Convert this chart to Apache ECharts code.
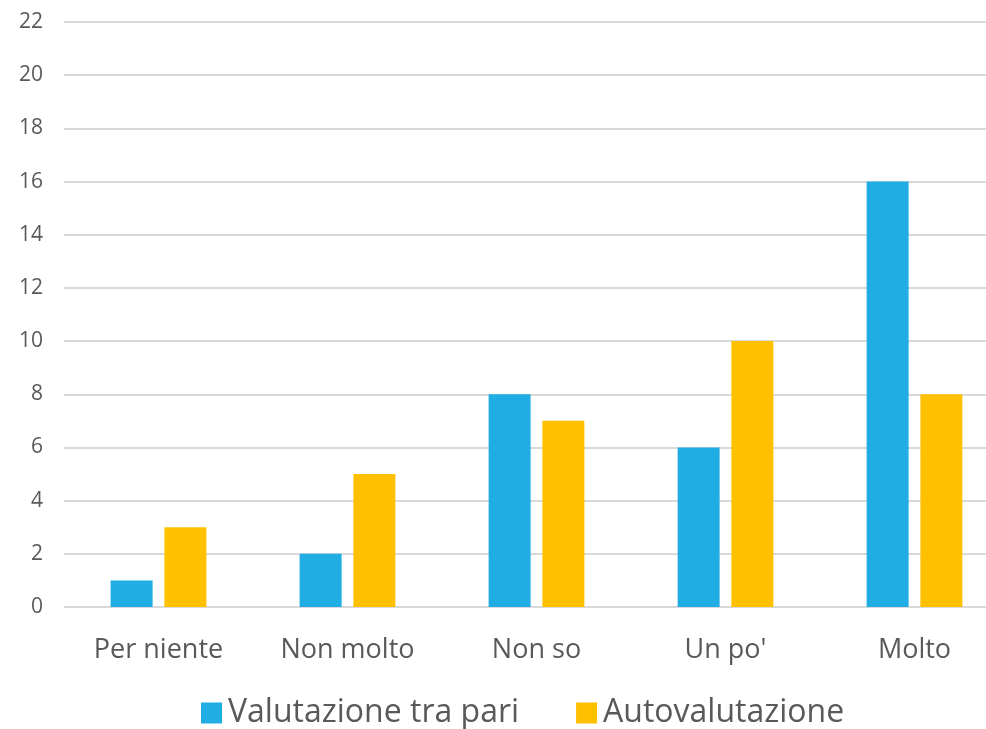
<!DOCTYPE html>
<html>
<head>
<meta charset="utf-8">
<script src="https://cdn.jsdelivr.net/npm/echarts@6/dist/echarts.min.js"></script>
<style>
  html, body { margin: 0; padding: 0; background: #fff; }
  #chart { width: 986px; height: 729px; }
</style>
</head>
<body>
<div id="chart"></div>
<script>
// categorie e valori
const categories = ['Per niente', 'Non molto', 'Non so', "Un po'", 'Molto']
const seriesNames = ['Valutazione tra pari', 'Autovalutazione']
const peerValues = [1, 2, 8, 6, 16]
const selfValues = [3, 5, 7, 10, 8]

const font = "'Open Sans', 'Noto Sans', sans-serif"

const chart = echarts.init(document.getElementById('chart'))
chart.setOption({
  animation: false,
  color: ['#1FADE4', '#FFC000'],
  // the plot runs past the right edge of the picture, like in the original
  grid: { left: 64, width: 945, top: 22, height: 585, outerBoundsMode: 'none', containLabel: false },
  legend: {
    data: seriesNames,
    top: 692,
    left: 196,
    itemWidth: 21,
    itemHeight: 21,
    itemGap: 57,
    icon: 'rect',
    textStyle: { fontFamily: font, fontSize: 32, color: '#595959', padding: [0, 0, 0, 1] }
  },
  xAxis: {
    type: 'category',
    data: categories,
    axisLine: { show: false },
    axisTick: { show: false },
    axisLabel: { fontFamily: font, fontSize: 27, color: '#595959', margin: 30 }
  },
  yAxis: {
    type: 'value',
    min: 0,
    max: 22,
    interval: 2,
    axisLine: { show: false },
    axisTick: { show: false },
    axisLabel: { fontFamily: font, fontSize: 21, color: '#595959', margin: 21 },
    splitLine: { lineStyle: { color: '#D9D9D9', width: 2 } }
  },
  series: [
    { name: seriesNames[0], type: 'bar', data: peerValues, barWidth: 42, barGap: '28%' },
    { name: seriesNames[1], type: 'bar', data: selfValues, barWidth: 42 }
  ]
})
</script>
</body>
</html>
